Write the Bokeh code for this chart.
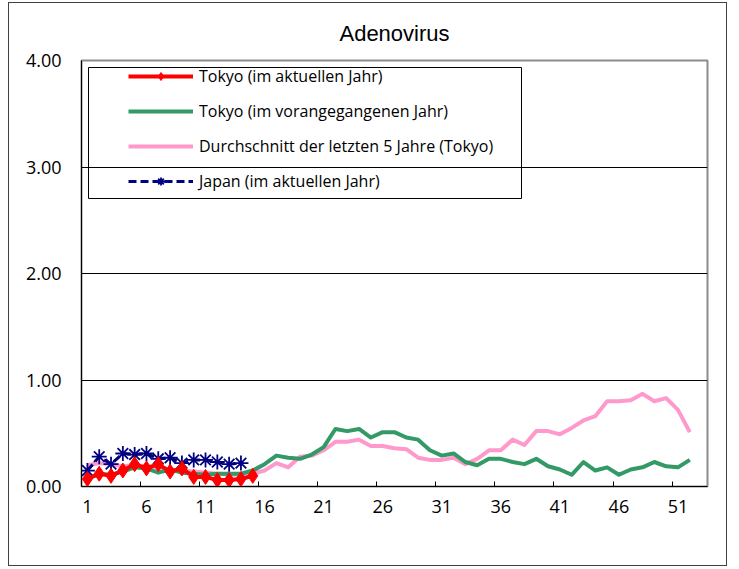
from bokeh.plotting import figure
from bokeh.models import (FixedTicker, Legend, LegendItem, BoxAnnotation,
                          NumeralTickFormatter, Range1d)
from bokeh.embed import file_html
from bokeh.resources import INLINE

# ---------------- data ----------------
title_text = "Adenovirus"
series_names = ["Tokyo (im aktuellen Jahr)",
                "Tokyo (im vorangegangenen Jahr)",
                "Durchschnitt der letzten 5 Jahre (Tokyo)",
                "Japan (im aktuellen Jahr)"]

tokyo_current = [0.07, 0.12, 0.10, 0.15, 0.21, 0.17, 0.21, 0.14, 0.17, 0.09,
                 0.09, 0.06, 0.06, 0.07, 0.10]
japan_current = [0.15, 0.28, 0.21, 0.31, 0.30, 0.31, 0.26, 0.27, 0.22, 0.25,
                 0.25, 0.23, 0.21, 0.22]
tokyo_prev = [0.07, 0.12, 0.11, 0.14, 0.18, 0.17, 0.13, 0.16, 0.13, 0.12,
              0.11, 0.12, 0.12, 0.12, 0.15, 0.21,
              0.29, 0.27, 0.26, 0.30, 0.37, 0.54, 0.52, 0.54, 0.46, 0.51,
              0.51, 0.46, 0.44, 0.34, 0.29, 0.31, 0.23, 0.20, 0.26, 0.26,
              0.23, 0.21, 0.26, 0.19, 0.16, 0.11, 0.23, 0.15, 0.18, 0.11,
              0.16, 0.18, 0.23, 0.19, 0.18, 0.25]
avg5 = [0.20, 0.22, 0.21, 0.19, 0.20, 0.19, 0.18, 0.16, 0.15, 0.14,
        0.13, 0.12, 0.11, 0.11, 0.12, 0.15,
        0.22, 0.18, 0.28, 0.29, 0.34, 0.42, 0.42, 0.44, 0.38, 0.38,
        0.36, 0.35, 0.27, 0.25, 0.25, 0.27, 0.21, 0.26, 0.34, 0.34,
        0.44, 0.39, 0.52, 0.52, 0.49, 0.55, 0.62, 0.66, 0.80, 0.80,
        0.81, 0.87, 0.80, 0.83, 0.72, 0.51]

n_weeks = 53
x_tick_labels = [1, 6, 11, 16, 21, 26, 31, 36, 41, 46, 51]
x_tick_marks = [5.5, 10.5, 15.5, 20.5, 25.5, 30.5, 35.5, 40.5, 45.5, 50.5]
y_ticks = [0, 1, 2, 3, 4]

def weeks(vals):
    return list(range(1, len(vals) + 1))

# ---------------- figure ----------------
TICK_FONT = "Open Sans"
W, H = 719, 564
BL, BR, BT, BB = 72, 21, 56, 81

p = figure(width=W, height=H,
           x_range=Range1d(0.5, n_weeks + 0.5), y_range=Range1d(0, 4),
           output_backend="svg", toolbar_location=None,
           min_border_left=BL, min_border_right=BR,
           min_border_top=BT, min_border_bottom=BB,
           title=title_text)
p.styles = {"margin-left": "8px", "margin-top": "2px",
            "border": "1px solid #404040"}

p.title.align = "center"
p.title.text_font = "Liberation Sans"
p.title.text_font_size = "22px"
p.title.text_font_style = "normal"
p.title.text_color = "black"
p.title.standoff = 30

p.background_fill_color = "white"
p.border_fill_color = "white"
p.outline_line_color = "#8c8c8c"
p.outline_line_width = 2

p.xgrid.visible = False
p.ygrid.grid_line_color = "black"
p.ygrid.grid_line_width = 1
p.ygrid.grid_line_alpha = 1

p.yaxis.ticker = FixedTicker(ticks=y_ticks)
p.yaxis.formatter = NumeralTickFormatter(format="0.00")
p.yaxis.major_tick_in = 0
p.yaxis.major_tick_out = 0
p.yaxis.minor_tick_in = 0
p.yaxis.minor_tick_out = 0
p.yaxis.major_label_standoff = 20
p.yaxis.axis_line_color = "black"

p.xaxis.ticker = FixedTicker(ticks=x_tick_labels, minor_ticks=x_tick_marks)
p.xaxis.major_tick_in = 0
p.xaxis.major_tick_out = 0
p.xaxis.minor_tick_in = 5
p.xaxis.minor_tick_out = 0
p.xaxis.minor_tick_line_color = "black"
p.xaxis.major_label_standoff = 13
p.xaxis.axis_line_color = "black"

for ax in (p.xaxis, p.yaxis):
    ax.major_label_text_font = TICK_FONT
    ax.major_label_text_font_size = "18px"
    ax.major_label_text_color = "black"

# ---------------- series ----------------
r_pink = p.line(weeks(avg5), avg5, line_color="#FF99CC", line_width=4,
                line_join="round")
r_green = p.line(weeks(tokyo_prev), tokyo_prev, line_color="#339966",
                 line_width=4, line_join="round")
r_navy = p.line(weeks(japan_current), japan_current, line_color="#000080",
                line_width=3, line_dash="8 4", line_join="round")
r_navy_m = p.scatter(weeks(japan_current), japan_current, marker="asterisk",
                     size=15, line_color="#000080", line_width=1.8)
r_red = p.line(weeks(tokyo_current), tokyo_current, line_color="#FF0000",
               line_width=4, line_join="round")
r_red_m = p.scatter(weeks(tokyo_current), tokyo_current, marker="diamond",
                    size=15, fill_color="#FF0000", line_color="#FF0000")

# ---------------- legend ----------------
legend_box = BoxAnnotation(left=7, right=440, top=419, bottom=288,
                           left_units="screen", right_units="screen",
                           top_units="screen", bottom_units="screen",
                           fill_alpha=0, line_color="black", line_width=1,
                           line_alpha=1)
p.add_layout(legend_box)

legend = Legend(items=[
    LegendItem(label=series_names[0], renderers=[r_red, r_red_m]),
    LegendItem(label=series_names[1], renderers=[r_green]),
    LegendItem(label=series_names[2], renderers=[r_pink]),
    LegendItem(label=series_names[3], renderers=[r_navy, r_navy_m]),
], location=(47, 294), glyph_width=65, glyph_height=20, label_height=20,
    spacing=13, padding=0, margin=0, label_standoff=6,
    border_line_alpha=0, background_fill_alpha=0,
    label_text_font=TICK_FONT, label_text_font_size="16px",
    label_text_color="black")
p.add_layout(legend)

open("out.html", "w").write(file_html(p, INLINE))
